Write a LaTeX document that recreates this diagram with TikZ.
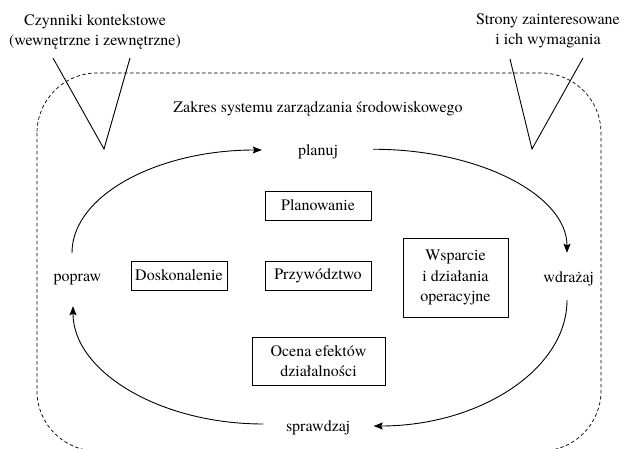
\documentclass[tikz,border=0pt]{standalone}
\usepackage{fontspec}
\setmainfont{texgyretermes-regular.otf}
\usetikzlibrary{arrows.meta}

\begin{document}
\begin{tikzpicture}[x=1pt,y=1pt,
  every node/.style={font=\fontsize{16}{20.5}\selectfont},
  lbl/.style={inner sep=0pt, text height=11pt, text depth=3.5pt, anchor=base},
  toplbl/.style={inner sep=0pt, align=center, anchor=base},
  box/.style={draw, line width=0.7pt, inner sep=0pt, align=center},
  cyc/.style={line width=0.9pt, -{Stealth[length=9pt,width=7pt,inset=1.5pt]}},
  vee/.style={line width=0.9pt},
  frame/.style={line width=0.7pt, dash pattern=on 3.5pt off 2.5pt, rounded corners=60pt}]

\useasboundingbox (0,0) rectangle (624,-449);
\clip (0,0) rectangle (624,-449);

% system scope frame
\draw[frame] (37,-73) rectangle (601,-451);

% outside influences (base anchor sits on the last line)
\node[toplbl] (ctx) at (95,-45.7) {Czynniki kontekstowe\\(wewnętrzne i zewnętrzne)};
\node[toplbl] (stk) at (548,-45) {Strony zainteresowane\\i ich wymagania};
\draw[vee] (53,-58) -- (104,-149) -- (130,-58);
\draw[vee] (510,-59) -- (532,-149) -- (583,-58);

\node[anchor=base, inner sep=0pt] (scope) at (318,-113) {Zakres systemu zarządzania środowiskowego};

% PDCA steps
\node[lbl] (planuj) at (318,-156) {planuj};
\node[lbl] (popraw) at (77.5,-281) {popraw};
\node[lbl] (wdrazaj) at (568.6,-283) {wdrażaj};
\node[lbl] (sprawdzaj) at (318,-431.5) {sprawdzaj};

% clauses
\node[box, minimum width=106pt, minimum height=29pt] (plan) at (318,-205.5) {Planowanie};
\node[box, minimum width=96pt, minimum height=29pt] (dosk) at (179,-275.5) {Doskonalenie};
\node[box, minimum width=106pt, minimum height=29pt] (przyw) at (318,-275.5) {Przywództwo};
\node[box, minimum width=105pt, minimum height=79pt] (wspar) at (455.5,-277.5) {Wsparcie\\i działania\\operacyjne};
\node[box, minimum width=133pt, minimum height=48pt] (ocena) at (318.5,-361) {Ocena efektów\\działalności};

% cycle arrows
\draw[cyc] ([shift={(-5.5,17)}]popraw.north) .. controls +(0,57) and +(-105,0) .. ([shift={(-36,2.25)}]planuj.west);
\draw[cyc] ([shift={(35,3)}]planuj.east) .. controls +(107,0) and +(0,57) .. ([shift={(-1.6,19)}]wdrazaj.north);
\draw[cyc] ([shift={(-1.6,-13.5)}]wdrazaj.south) .. controls +(0,-69) and +(106,0) .. ([shift={(23.5,1.75)}]sprawdzaj.east);
\draw[cyc] ([shift={(-22.5,3.75)}]sprawdzaj.west) .. controls +(-104,0) and +(0,-65) .. ([shift={(-4.5,-21.5)}]popraw.south);
\end{tikzpicture}
\end{document}
